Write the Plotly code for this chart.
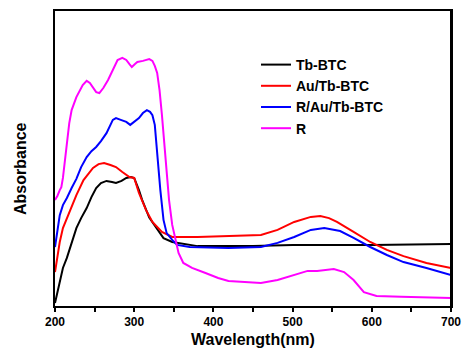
import plotly.graph_objects as go

# Tb-BTC
wl_tb = [200, 203, 206, 210, 215, 221, 227, 233, 240, 246, 252, 258, 265, 272, 277, 284, 290, 296, 300,
         306, 310, 319, 327, 337, 348, 365, 380, 400, 450, 500, 600, 700]
abs_tb = [0.010, 0.044, 0.081, 0.129, 0.163, 0.217, 0.264, 0.298, 0.332, 0.369, 0.400, 0.417, 0.424, 0.420,
          0.417, 0.424, 0.434, 0.437, 0.434, 0.393, 0.360, 0.300, 0.270, 0.230, 0.217, 0.210, 0.203, 0.203,
          0.203, 0.207, 0.207, 0.210]

# Au/Tb-BTC
wl_au = [200, 203, 206, 210, 215, 221, 227, 236, 248, 255, 262, 270, 277, 285, 294, 300, 306, 315, 323, 335,
         348, 380, 419, 460, 481, 502, 523, 535, 546, 556, 577, 598, 619, 640, 669, 700]
abs_au = [0.115, 0.173, 0.217, 0.264, 0.298, 0.342, 0.376, 0.427, 0.468, 0.481, 0.485, 0.478, 0.471, 0.454,
          0.437, 0.434, 0.383, 0.325, 0.285, 0.251, 0.234, 0.234, 0.237, 0.241, 0.258, 0.285, 0.302, 0.305,
          0.298, 0.285, 0.251, 0.217, 0.190, 0.169, 0.146, 0.129]

# R/Au/Tb-BTC
wl_rau = [200, 203, 206, 210, 215, 221, 227, 233, 240, 246, 252, 258, 265, 273, 277, 283, 290, 295, 301, 306,
          311, 316, 320, 323, 326, 329, 333, 337, 341, 348, 354, 370, 419, 460, 481, 502, 523, 540, 560, 577,
          598, 619, 640, 669, 700]
abs_rau = [0.200, 0.258, 0.308, 0.342, 0.366, 0.400, 0.431, 0.471, 0.505, 0.525, 0.539, 0.559, 0.586, 0.631,
           0.637, 0.631, 0.624, 0.614, 0.627, 0.637, 0.654, 0.664, 0.658, 0.647, 0.614, 0.512, 0.393, 0.292,
           0.247, 0.224, 0.207, 0.200, 0.197, 0.200, 0.214, 0.234, 0.258, 0.264, 0.254, 0.231, 0.200, 0.173,
           0.149, 0.129, 0.105]

# R
wl_r = [200, 203, 206, 208, 210, 213, 215, 218, 221, 227, 235, 240, 244, 248, 252, 256, 261, 267, 273, 279,
        285, 290, 294, 297, 301, 304, 311, 319, 323, 326, 329, 332, 335, 338, 341, 344, 348, 352, 356, 362,
        373, 390, 406, 419, 440, 460, 481, 502, 519, 531, 552, 565, 577, 590, 606, 637, 700]
abs_r = [0.359, 0.373, 0.393, 0.403, 0.434, 0.512, 0.563, 0.620, 0.664, 0.708, 0.749, 0.763, 0.756, 0.739,
         0.725, 0.722, 0.739, 0.766, 0.800, 0.834, 0.841, 0.834, 0.820, 0.810, 0.820, 0.827, 0.831, 0.837,
         0.831, 0.814, 0.790, 0.732, 0.648, 0.546, 0.444, 0.359, 0.275, 0.224, 0.180, 0.146, 0.129, 0.112,
         0.095, 0.085, 0.081, 0.078, 0.088, 0.105, 0.119, 0.119, 0.125, 0.115, 0.088, 0.047, 0.034, 0.031,
         0.027]

series = [
    ("Tb-BTC", wl_tb, abs_tb, "#000000"),
    ("Au/Tb-BTC", wl_au, abs_au, "#ff0000"),
    ("R/Au/Tb-BTC", wl_rau, abs_rau, "#0000ff"),
    ("R", wl_r, abs_r, "#ff00ff"),
]

x_ticks = [200, 300, 400, 500, 600, 700]
x_minor = [250, 350, 450, 550, 650]

fig = go.Figure()
for name, x, y, c in series:
    fig.add_trace(go.Scatter(x=x, y=y, mode="lines", name=name,
                             line=dict(color=c, width=2)))

font_family = "Liberation Sans, Arial, sans-serif"
fig.update_layout(
    width=462, height=355,
    margin=dict(l=55, r=9, t=11, b=49),
    plot_bgcolor="white", paper_bgcolor="white",
    font=dict(family=font_family, color="black"),
    showlegend=True,
    legend=dict(x=(257 - 55) / 398, y=(306 - 49) / 295, xanchor="left", yanchor="top",
                bgcolor="rgba(0,0,0,0)", borderwidth=0,
                font=dict(size=14, family=font_family, weight="bold"),
                tracegroupgap=0, itemwidth=30),
    xaxis=dict(range=[200, 700], tickvals=x_ticks, ticktext=[str(v) for v in x_ticks],
               automargin=False, ticklabeloverflow="allow",
               ticks="outside", ticklen=4, tickwidth=2, tickcolor="black",
               minor=dict(tickvals=x_minor, ticks="outside", ticklen=4,
                          tickwidth=2, tickcolor="black"),
               showline=True, linecolor="black", linewidth=2, mirror=True,
               showgrid=False, zeroline=False,
               tickfont=dict(size=12, family=font_family, weight="bold")),
    yaxis=dict(range=[0, 1], showticklabels=False, ticks="",
               showline=True, linecolor="black", linewidth=2, mirror=True,
               showgrid=False, zeroline=False),
    shapes=[dict(type="line", xref="paper", yref="paper", x0=1, x1=1, y0=0, y1=1,
                 line=dict(color="black", width=2), layer="above")],
    annotations=[
        dict(text="<b>Wavelength(nm)</b>", xref="paper", yref="paper", x=0.5, y=0,
             yshift=-33, showarrow=False, xanchor="center", yanchor="middle",
             font=dict(size=16, family=font_family)),
        dict(text="<b>Absorbance</b>", xref="paper", yref="paper", x=0, y=(306 - 169) / 295,
             xshift=-35, showarrow=False, textangle=-90, xanchor="center", yanchor="middle",
             font=dict(size=16, family=font_family)),
    ],
)

fig.write_html("out.html")
